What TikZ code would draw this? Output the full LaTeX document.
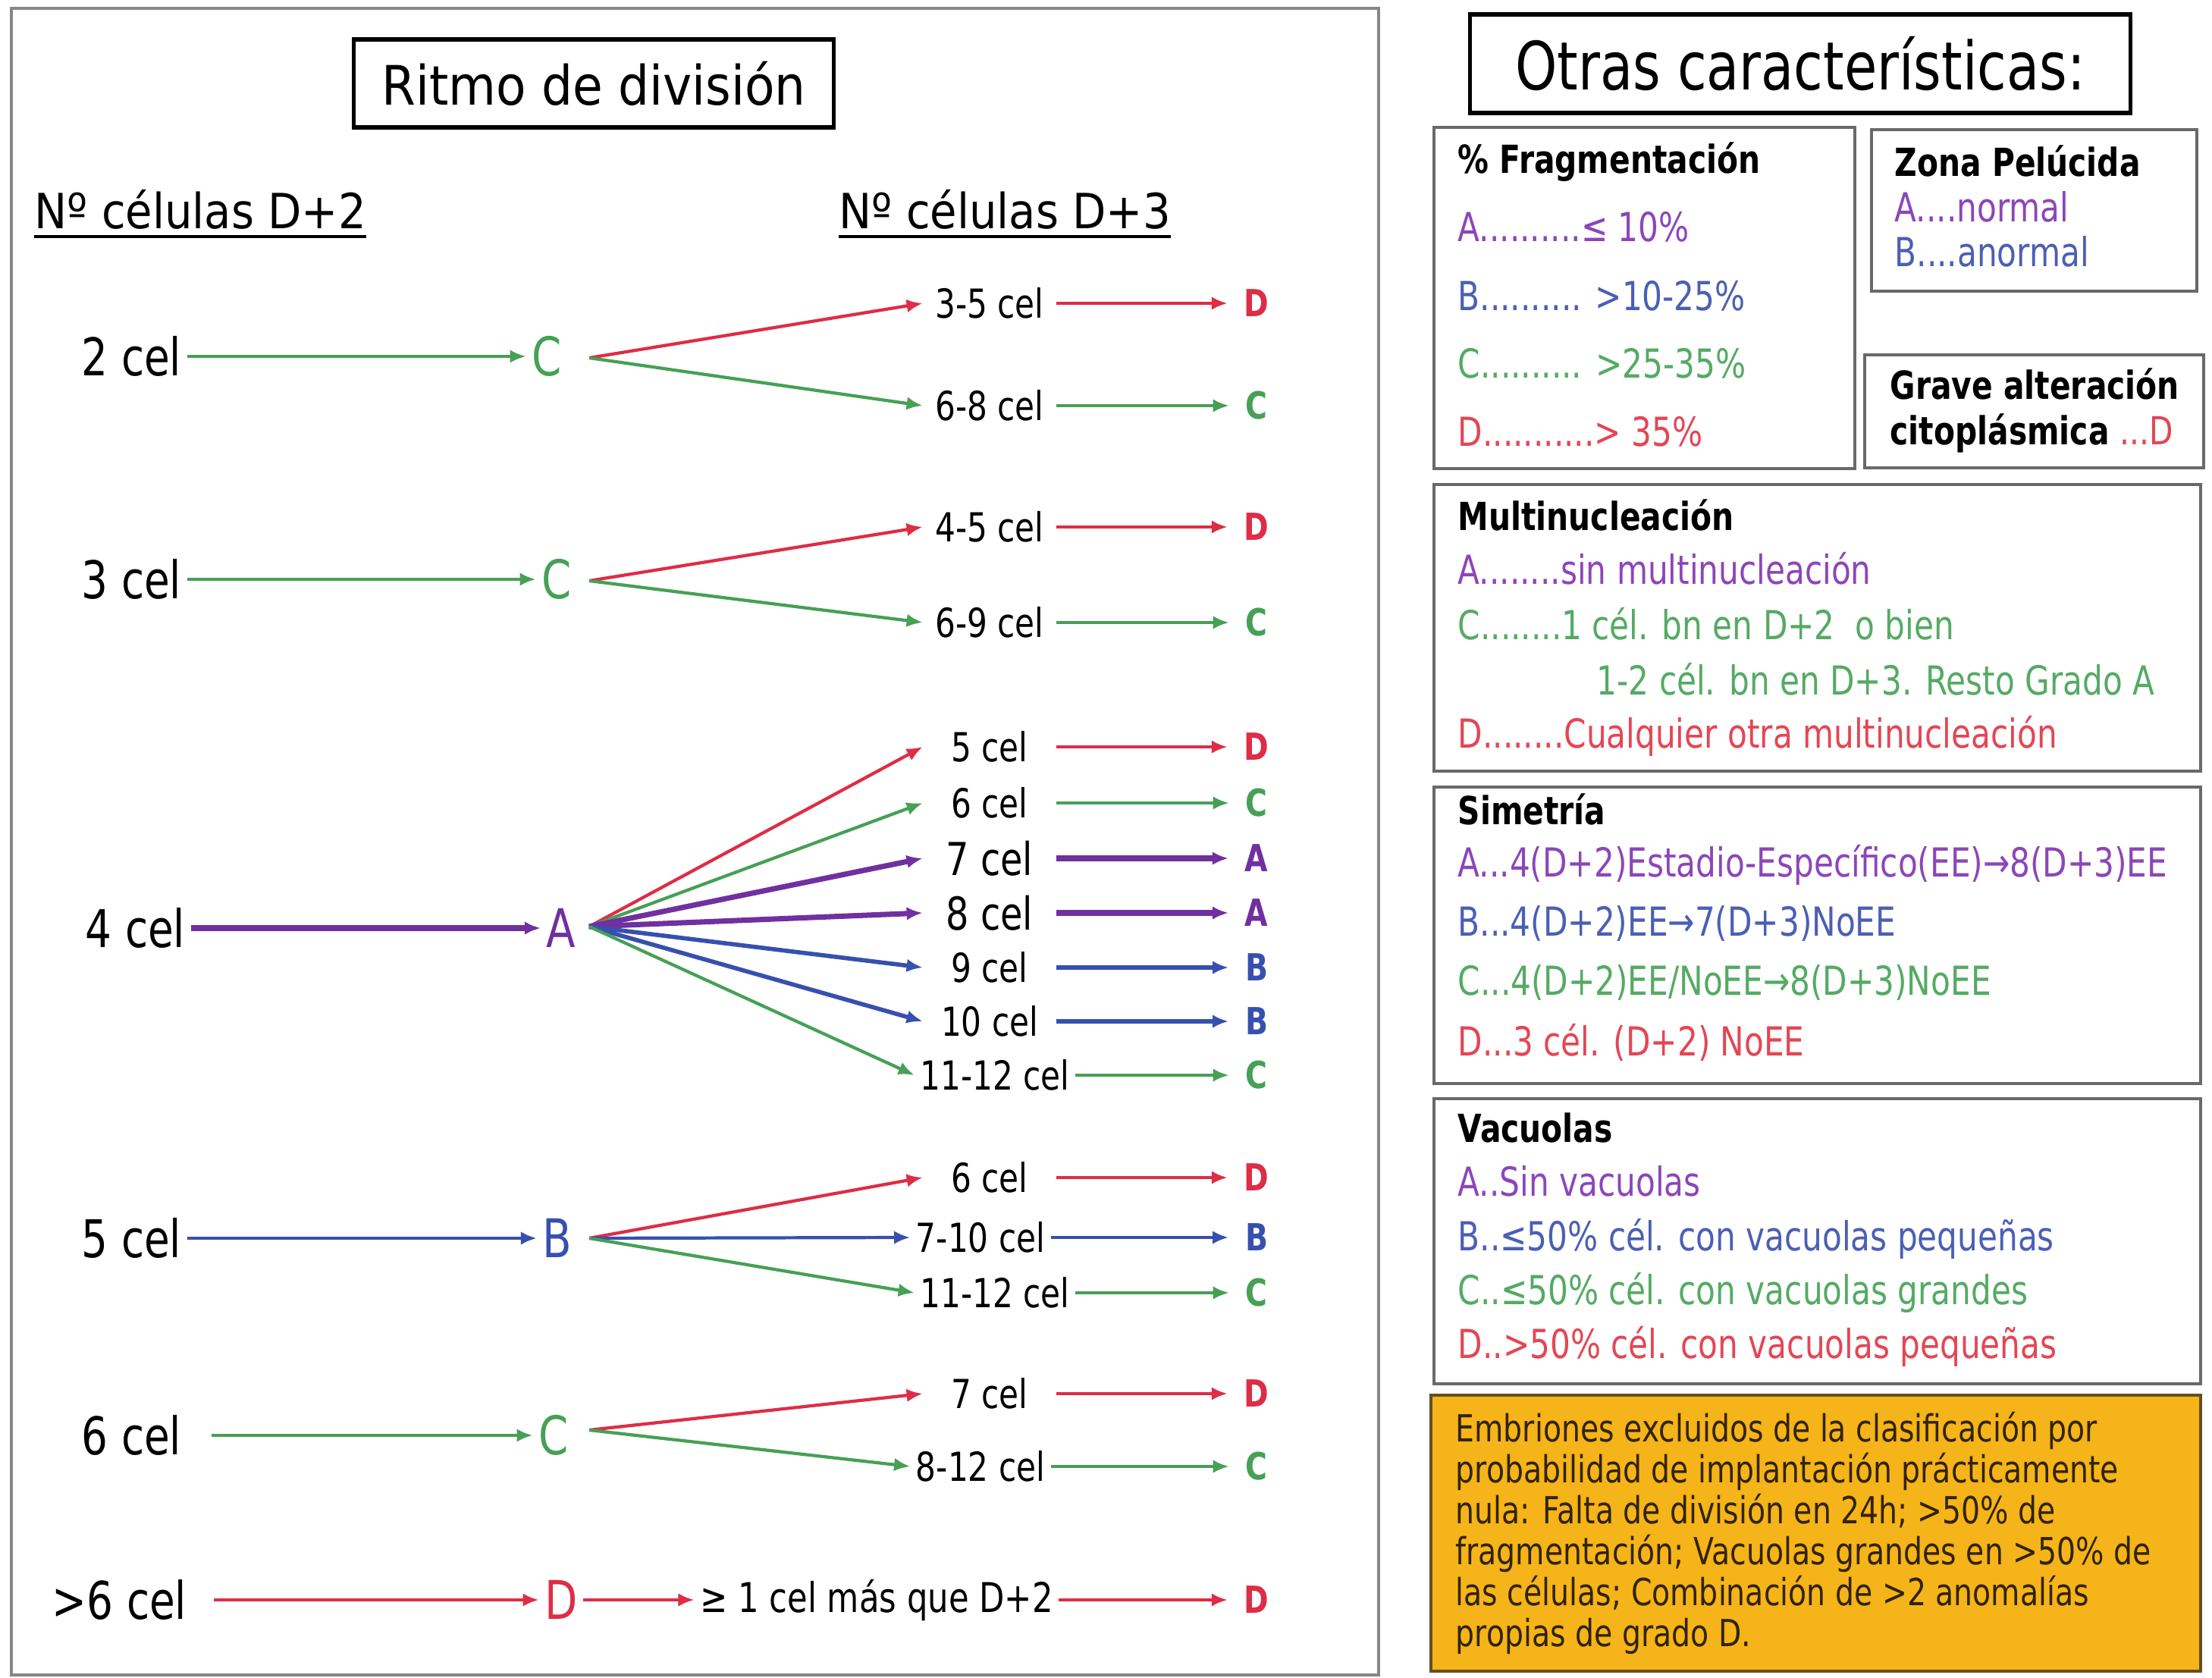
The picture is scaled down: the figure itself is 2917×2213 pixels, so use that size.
\documentclass[tikz,border=0pt]{standalone}
\usepackage{fontspec}
\setmainfont{DejaVu Sans}
\newfontfamily\fcA[FakeStretch=0.8]{DejaVu Sans}
\newfontfamily\fcB[FakeStretch=0.9]{DejaVu Sans}
\usetikzlibrary{arrows.meta,calc}
\definecolor{cgreen}{RGB}{70,160,85}
\definecolor{cred}{RGB}{222,45,70}
\definecolor{cpurple}{RGB}{112,48,160}
\definecolor{cblue}{RGB}{55,80,175}
\definecolor{lgreen}{RGB}{85,170,100}
\definecolor{lred}{RGB}{228,70,85}
\definecolor{lpurple}{RGB}{140,70,185}
\definecolor{lblue}{RGB}{75,95,180}
\definecolor{panelgray}{RGB}{135,135,135}
\definecolor{boxgray}{RGB}{105,105,105}
\definecolor{orangefill}{RGB}{245,180,25}
\definecolor{orangeedge}{RGB}{100,80,30}
\definecolor{darktext}{RGB}{50,35,0}
\begin{document}
\begin{tikzpicture}[x=0.01cm,y=-0.01cm,
  bigcel/.style={font=\fcA\fontsize{19.5}{23}\selectfont, anchor=east, inner sep=2pt},
  grade/.style={font=\fcA\fontsize{20}{23}\selectfont, inner sep=2pt},
  cel/.style={font=\fcA\fontsize{15}{18}\selectfont, inner sep=2pt, minimum width=49.8pt},
  celbig/.style={cel, font=\fcA\fontsize{17}{20}\selectfont},
  fin/.style={font=\fcA\bfseries\fontsize{14}{16}\selectfont, inner xsep=6pt, inner ysep=2pt},
  arr/.style={line width=1.2pt, -{Latex[length=6pt,width=5pt]}},
  parr/.style={arr, line width=2pt},
  hdr/.style={font=\fcB\fontsize{18.2}{21}\selectfont, anchor=base west, inner xsep=0pt, inner ysep=2.3pt},
  titlebox/.style={draw=black, line width=1.5pt, inner sep=0pt},
  rbox/.style={draw=boxgray, line width=1pt},
  rtext/.style={font=\fcA\fontsize{15}{18}\selectfont, anchor=west, inner sep=0pt, text height=11pt, text depth=3pt},
  rtitle/.style={rtext, font=\fcA\bfseries\fontsize{14.5}{17}\selectfont}
]
\useasboundingbox (0,0) rectangle (2917,2213);

% ---------------- left panel ----------------
\draw[draw=panelgray, line width=0.9pt] (15,11) rectangle (1818,2209);
\node[titlebox, minimum width=6.32cm, minimum height=1.16cm, font=\fcB\fontsize{20.4}{24}\selectfont] (rt) at (783,110) {Ritmo de división};

\node[hdr] (h2) at (45,302) {Nº células D+2};
\node[hdr] (h3) at (1106,302) {Nº células D+3};
\draw[line width=1.1pt] (h2.south west) -- (h2.south east);
\draw[line width=1.1pt] (h3.south west) -- (h3.south east);

% Row 1: 2 cel
\node[bigcel] (n1) at (247,470) {2 cel};
\node[grade, text=cgreen] (g1) at (721,470) {C};
\coordinate (o1) at (777,472);
\node[cel] (t11) at (1305,400) {3-5 cel};
\node[cel] (t12) at (1305,535) {6-8 cel};
\node[fin, text=cred] (f11) at (1657,400) {D};
\node[fin, text=cgreen] (f12) at (1657,535) {C};
\draw[arr,cgreen] (n1.east) -- (g1.west);
\draw[arr,cred] (o1) -- (t11.west);
\draw[arr,cgreen] (o1) -- (t12.west);
\draw[arr,cred] (t11.east) -- (f11.west);
\draw[arr,cgreen] (t12.east) -- (f12.west);

% Row 2: 3 cel
\node[bigcel] (n2) at (247,764) {3 cel};
\node[grade, text=cgreen] (g2) at (734,764) {C};
\coordinate (o2) at (777,766);
\node[cel] (t21) at (1305,695) {4-5 cel};
\node[cel] (t22) at (1305,821) {6-9 cel};
\node[fin, text=cred] (f21) at (1657,695) {D};
\node[fin, text=cgreen] (f22) at (1657,821) {C};
\draw[arr,cgreen] (n2.east) -- (g2.west);
\draw[arr,cred] (o2) -- (t21.west);
\draw[arr,cgreen] (o2) -- (t22.west);
\draw[arr,cred] (t21.east) -- (f21.west);
\draw[arr,cgreen] (t22.east) -- (f22.west);

% Row 3: 4 cel
\node[bigcel] (n3) at (252,1224) {4 cel};
\node[grade, text=cpurple] (g3) at (740,1224) {A};
\coordinate (o3) at (777,1222);
\node[cel] (t31) at (1305,985) {5 cel};
\node[cel] (t32) at (1305,1059) {6 cel};
\node[celbig] (t33) at (1305,1132) {7 cel};
\node[celbig] (t34) at (1305,1204) {8 cel};
\node[cel] (t35) at (1305,1276) {9 cel};
\node[cel] (t36) at (1305,1347) {10 cel};
\node[cel] (t37) at (1312,1418) {11-12 cel};
\node[fin, text=cred] (f31) at (1657,985) {D};
\node[fin, text=cgreen] (f32) at (1657,1059) {C};
\node[fin, text=cpurple] (f33) at (1657,1132) {A};
\node[fin, text=cpurple] (f34) at (1657,1204) {A};
\node[fin, text=cblue] (f35) at (1657,1276) {B};
\node[fin, text=cblue] (f36) at (1657,1347) {B};
\node[fin, text=cgreen] (f37) at (1657,1418) {C};
\draw[arr,cpurple,line width=2.4pt] (n3.east) -- (g3.west);
\draw[arr,cred] (o3) -- (t31.west);
\draw[arr,cgreen] (o3) -- (t32.west);
\draw[parr,cpurple] (o3) -- (t33.west);
\draw[parr,cpurple] (o3) -- (t34.west);
\draw[arr,cblue,line width=1.6pt] (o3) -- (t35.west);
\draw[arr,cblue,line width=1.6pt] (o3) -- (t36.west);
\draw[arr,cgreen] (o3) -- (t37.west);
\draw[arr,cred] (t31.east) -- (f31.west);
\draw[arr,cgreen] (t32.east) -- (f32.west);
\draw[parr,cpurple] (t33.east) -- (f33.west);
\draw[parr,cpurple] (t34.east) -- (f34.west);
\draw[arr,cblue,line width=1.6pt] (t35.east) -- (f35.west);
\draw[arr,cblue,line width=1.6pt] (t36.east) -- (f36.west);
\draw[arr,cgreen] (t37.east) -- (f37.west);

% Row 4: 5 cel
\node[bigcel] (n4) at (247,1633) {5 cel};
\node[grade, text=cblue] (g4) at (735,1633) {B};
\coordinate (o4) at (777,1633);
\node[cel] (t41) at (1305,1553) {6 cel};
\node[cel] (t42) at (1293,1632) {7-10 cel};
\node[cel] (t43) at (1312,1705) {11-12 cel};
\node[fin, text=cred] (f41) at (1657,1553) {D};
\node[fin, text=cblue] (f42) at (1657,1632) {B};
\node[fin, text=cgreen] (f43) at (1657,1705) {C};
\draw[arr,cblue] (n4.east) -- (g4.west);
\draw[arr,cred] (o4) -- (t41.west);
\draw[arr,cblue] (o4) -- (t42.west);
\draw[arr,cgreen] (o4) -- (t43.west);
\draw[arr,cred] (t41.east) -- (f41.west);
\draw[arr,cblue] (t42.east) -- (f42.west);
\draw[arr,cgreen] (t43.east) -- (f43.west);

% Row 5: 6 cel
\node[bigcel] (n5) at (247,1893) {6 cel};
\node[grade, text=cgreen] (g5) at (730,1893) {C};
\coordinate (o5) at (777,1886);
\node[cel] (t51) at (1305,1838) {7 cel};
\node[cel] (t52) at (1293,1934) {8-12 cel};
\node[fin, text=cred] (f51) at (1657,1838) {D};
\node[fin, text=cgreen] (f52) at (1657,1934) {C};
\draw[arr,cgreen,shorten <=9pt] (n5.east) -- (g5.west);
\draw[arr,cred] (o5) -- (t51.west);
\draw[arr,cgreen] (o5) -- (t52.west);
\draw[arr,cred] (t51.east) -- (f51.west);
\draw[arr,cgreen] (t52.east) -- (f52.west);

% Row 6: >6 cel
\node[bigcel] (n6) at (254,2110) {>6 cel};
\node[grade, text=cred] (g6) at (740,2110) {D};
\node[font=\fcA\fontsize{15.4}{18}\selectfont, inner sep=2pt] (t61) at (1156,2110) {≥ 1 cel más que D+2};
\node[fin, text=cred] (f61) at (1657,2110) {D};
\draw[arr,cred,shorten <=8pt] (n6.east) -- (g6.west);
\draw[arr,cred] (g6.east) -- (t61.west);
\draw[arr,cred] (t61.east) -- (f61.west);

% ---------------- right panel ----------------
\node[titlebox, minimum width=8.70cm, minimum height=1.30cm, font=\fcA\fontsize{25}{29}\selectfont] (ot) at (2374,84) {Otras características:};

% Fragmentacion
\draw[rbox] (1891,168) rectangle (2446,618);
\node[rtitle] (fr0) at (1922,214) {\% Fragmentación};
\node[rtext, text=lpurple] (fr1) at (1922,304) {A..........≤ 10\%};
\node[rtext, text=lblue] (fr2) at (1922,395) {B.......... >10-25\%};
\node[rtext, text=lgreen] (fr3) at (1922,484) {C.......... >25-35\%};
\node[rtext, text=lred] (fr4) at (1922,574) {D...........> 35\%};

% Zona pelucida
\draw[rbox] (2468,171) rectangle (2897,384);
\node[rtitle] (zp0) at (2498,218) {Zona Pelúcida};
\node[rtext, text=lpurple] (zp1) at (2498,278) {A....normal};
\node[rtext, text=lblue] (zp2) at (2498,337) {B....anormal};

% Grave alteracion
\draw[rbox] (2459,468) rectangle (2906,617);
\node[rtitle] (ga1) at (2492,512) {Grave alteración};
\node[rtitle] (ga2) at (2492,572) {citoplásmica {\mdseries\color{lred}...D}};

% Multinucleacion
\draw[rbox] (1891,639) rectangle (2902,1017);
\node[rtitle] (mu0) at (1922,685) {Multinucleación};
\node[rtext, text=lpurple] (mu1) at (1922,756) {A........sin multinucleación};
\node[rtext, text=lgreen] (mu2) at (1922,829) {C........1 cél. bn en D+2\ \ o bien};
\node[rtext, text=lgreen] (mu3) at (2105,902) {1-2 cél. bn en D+3. Resto Grado A};
\node[rtext, text=lred] (mu4) at (1922,972) {D........Cualquier otra multinucleación};

% Simetria
\draw[rbox] (1891,1038) rectangle (2902,1429);
\node[rtitle] (si0) at (1922,1073) {Simetría};
\node[rtext, text=lpurple] (si1) at (1922,1142) {A...4(D+2)Estadio-Específico(EE)→8(D+3)EE};
\node[rtext, text=lblue] (si2) at (1922,1220) {B...4(D+2)EE→7(D+3)NoEE};
\node[rtext, text=lgreen] (si3) at (1922,1298) {C...4(D+2)EE/NoEE→8(D+3)NoEE};
\node[rtext, text=lred] (si4) at (1922,1378) {D...3 cél. (D+2) NoEE};

% Vacuolas
\draw[rbox] (1891,1449) rectangle (2902,1825);
\node[rtitle] (va0) at (1922,1492) {Vacuolas};
\node[rtext, text=lpurple] (va1) at (1922,1563) {A..Sin vacuolas};
\node[rtext, text=lblue] (va2) at (1922,1635) {B..≤50\% cél. con vacuolas pequeñas};
\node[rtext, text=lgreen] (va3) at (1922,1706) {C..≤50\% cél. con vacuolas grandes};
\node[rtext, text=lred] (va4) at (1922,1777) {D..>50\% cél. con vacuolas pequeñas};

% Excluded embryos
\draw[draw=orangeedge, fill=orangefill, line width=1pt] (1887,1840) rectangle (2902,2204);
\node[anchor=north west, inner sep=0pt, align=left, text=darktext,
      font=\fcA\fontsize{14}{15.4}\selectfont] (ex) at (1919,1861)
  {Embriones excluidos de la clasificación por\\
   probabilidad de implantación prácticamente\\
   nula: Falta de división en 24h; >50\% de\\
   fragmentación; Vacuolas grandes en >50\% de\\
   las células; Combinación de >2 anomalías\\
   propias de grado D.};
\end{tikzpicture}
\end{document}
